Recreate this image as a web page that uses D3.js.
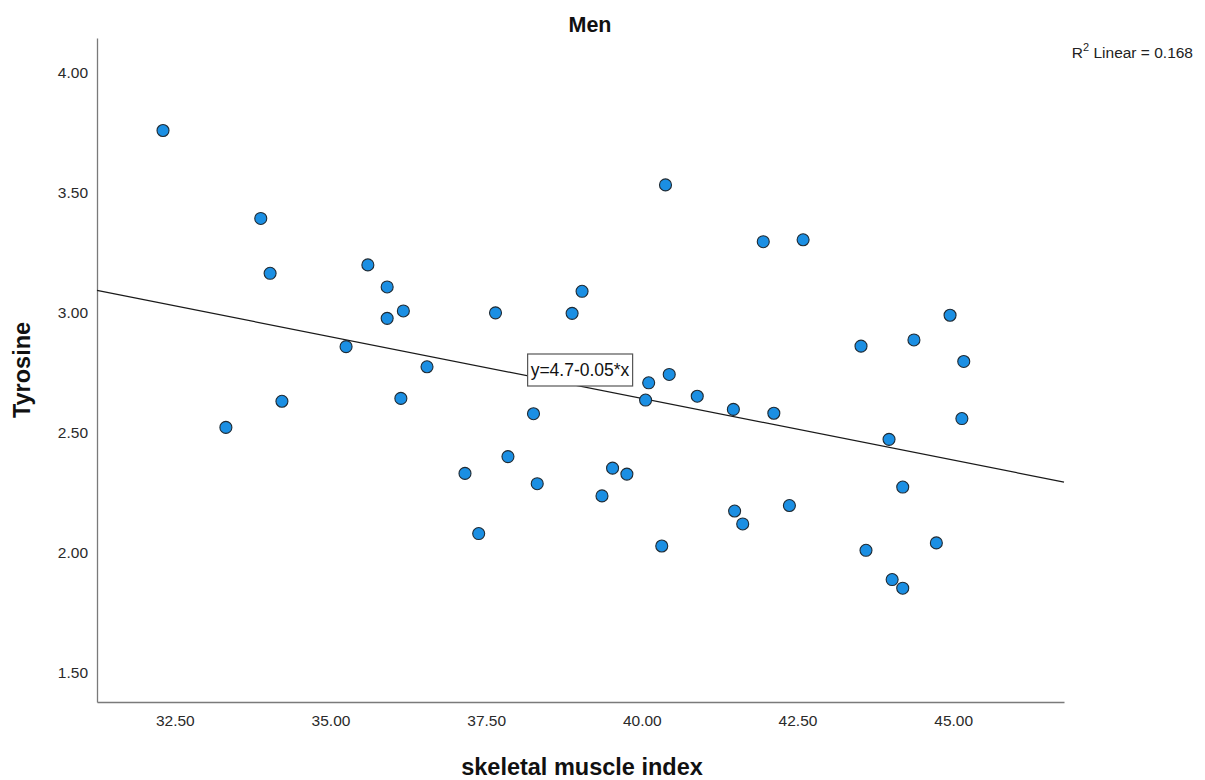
<!DOCTYPE html>
<html>
<head>
<meta charset="utf-8">
<script src="https://cdn.jsdelivr.net/npm/d3@7"></script>
<style>
  html, body { margin: 0; padding: 0; background: #fff; }
  svg { display: block; font-family: "Liberation Sans", Arial, sans-serif; }
</style>
</head>
<body>
<svg id="chart" width="1205" height="780"></svg>
<script>
// Skeletal muscle index (x) and tyrosine (y) for each subject
const smi = [
  32.31, 33.88, 34.03, 35.60, 35.91, 36.17, 35.91, 35.25, 36.55, 33.32,
  34.22, 36.13, 40.38, 39.04, 37.65, 38.88, 40.44, 40.11, 40.89, 40.06,
  38.26, 37.85, 37.16, 38.32, 39.53, 39.76, 39.36, 37.38, 40.32, 41.95,
  42.59, 44.95, 44.37, 43.52, 45.17, 41.47, 42.12, 43.97, 45.14, 44.19,
  42.37, 41.49, 41.62, 43.60, 44.73, 44.02, 44.19
];
const tyrosine = [
  3.760, 3.393, 3.164, 3.199, 3.107, 3.007, 2.976, 2.858, 2.774, 2.521,
  2.630, 2.642, 3.533, 3.089, 2.999, 2.997, 2.742, 2.707, 2.651, 2.635,
  2.578, 2.399, 2.329, 2.286, 2.351, 2.326, 2.235, 2.078, 2.026, 3.296,
  3.304, 2.989, 2.886, 2.860, 2.796, 2.596, 2.580, 2.471, 2.558, 2.272,
  2.195, 2.172, 2.118, 2.008, 2.039, 1.886, 1.850
];

// Axis ticks
const xTicks = [32.5, 35.0, 37.5, 40.0, 42.5, 45.0];
const yTicks = [1.5, 2.0, 2.5, 3.0, 3.5, 4.0];

// Linear fit
const fitIntercept = 4.702;
const fitSlope = -0.0515;
const rSquared = 0.168;

const svg = d3.select("#chart");
const plotLeft = 97, plotRight = 1064, plotTop = 38, plotBottom = 702;

const x = d3.scaleLinear().domain([31.25, 46.78]).range([plotLeft, plotRight]);
const y = d3.scaleLinear().domain([1.375, 4.146]).range([plotBottom, plotTop]);

// Axes (lines only, no tick marks)
const xAxis = svg.append("g")
  .attr("transform", `translate(0,${plotBottom})`)
  .call(d3.axisBottom(x).tickValues(xTicks).tickFormat(d3.format(".2f")).tickSize(0).tickPadding(13));
const yAxis = svg.append("g")
  .attr("transform", `translate(${plotLeft},0)`)
  .call(d3.axisLeft(y).tickValues(yTicks).tickFormat(d3.format(".2f")).tickSize(0).tickPadding(9));

[xAxis, yAxis].forEach(g => {
  g.select(".domain").attr("stroke", "#7a7a7a").attr("stroke-width", 1.3);
  g.selectAll("text").attr("font-size", 15.5).attr("fill", "#2a2a2a")
    .attr("font-family", "'Liberation Sans', Arial, sans-serif");
});

// Regression line across the full x range
const xd = x.domain();
svg.append("line")
  .attr("x1", x(xd[0])).attr("y1", y(fitIntercept + fitSlope * xd[0]))
  .attr("x2", x(xd[1])).attr("y2", y(fitIntercept + fitSlope * xd[1]))
  .attr("stroke", "#1a1a1a").attr("stroke-width", 1.2);

// Data points
const pts = smi.map((v, i) => ({ x: v, y: tyrosine[i] }));
svg.append("g").selectAll("circle").data(pts).join("circle")
  .attr("cx", d => x(d.x)).attr("cy", d => y(d.y)).attr("r", 6)
  .attr("fill", "#1b8fe3").attr("stroke", "#1f2a33").attr("stroke-width", 1.1);

// Equation label box
const eqText = `y=${d3.format(".1f")(fitIntercept)}-${d3.format(".2f")(Math.abs(fitSlope))}*x`;
const eqG = svg.append("g").attr("transform", "translate(580,370)");
const eq = eqG.append("text").attr("text-anchor", "middle").attr("dy", "0.35em")
  .attr("font-size", 17.5).attr("fill", "#111").text(eqText);
const bb = eq.node().getBBox();
eqG.insert("rect", "text")
  .attr("x", bb.x - 3).attr("y", -16).attr("width", bb.width + 6).attr("height", 32)
  .attr("fill", "#fff").attr("stroke", "#555").attr("stroke-width", 1.2);

// Title
svg.append("text").attr("x", 590).attr("y", 32).attr("text-anchor", "middle")
  .attr("font-size", 21.5).attr("font-weight", "bold").attr("fill", "#111").text("Men");

// Axis titles
svg.append("text").attr("x", 582).attr("y", 775).attr("text-anchor", "middle")
  .attr("font-size", 23.5).attr("font-weight", "bold").attr("fill", "#111").text("skeletal muscle index");
svg.append("text").attr("transform", "translate(30,370) rotate(-90)").attr("text-anchor", "middle")
  .attr("font-size", 23.5).attr("font-weight", "bold").attr("fill", "#111").text("Tyrosine");

// R squared annotation
const r2 = svg.append("text").attr("x", 1193).attr("y", 58).attr("text-anchor", "end")
  .attr("font-size", 15.5).attr("fill", "#222");
r2.append("tspan").text("R");
r2.append("tspan").attr("dy", -7).attr("font-size", 11).text("2");
r2.append("tspan").attr("dy", 7).text(` Linear = ${d3.format(".3f")(rSquared)}`);
</script>
</body>
</html>
